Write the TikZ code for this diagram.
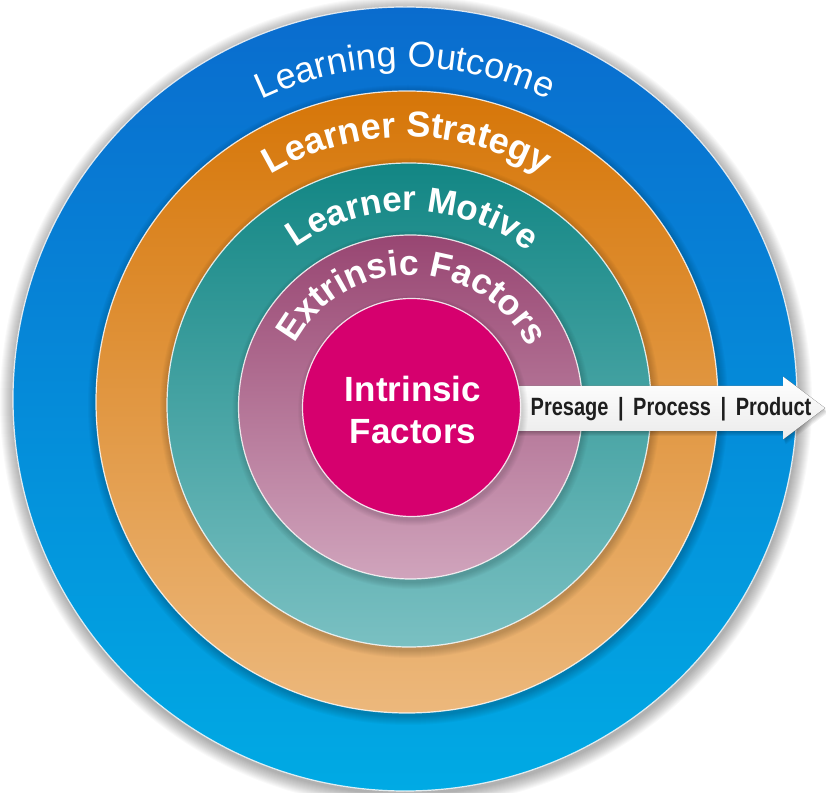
\documentclass[tikz,border=0pt]{standalone}
\usepackage{fontspec}
\setmainfont{Liberation Sans}
\newfontfamily\condfont[FakeStretch=0.8]{Liberation Sans}
\usetikzlibrary{decorations.text,calc}
\definecolor{blueT}{RGB}{10,108,206}
\definecolor{blueB}{RGB}{0,170,228}
\definecolor{orT}{RGB}{214,118,8}
\definecolor{orB}{RGB}{236,184,124}
\definecolor{teT}{RGB}{18,134,132}
\definecolor{teB}{RGB}{122,192,194}
\definecolor{maT}{RGB}{152,70,114}
\definecolor{maB}{RGB}{208,164,188}
\definecolor{mag}{RGB}{214,0,110}
\definecolor{txtdark}{RGB}{30,30,30}
\tikzset{
  ringborder/.style={draw=white, draw opacity=0.85, line width=1.2pt},
  softshadow/.style={fill=black, opacity=0.022},
  arctext/.style={decorate, decoration={text along path, text align=center, text color=white}},
}
\begin{document}
\begin{tikzpicture}[x=1pt,y=1pt]
\useasboundingbox (0,0) rectangle (826,792);
\fill[white] (0,0) rectangle (826,792);
% outer glow shadow
\foreach \i in {1,...,14} \fill[softshadow] (406,390) circle ({392+\i});
% blue ring
\fill[top color=blueT, bottom color=blueB, ringborder] (405,393) circle (392);
\foreach \i in {1,...,9} \fill[softshadow] (408,387) circle ({311+\i});
% orange ring
\fill[top color=orT, bottom color=orB, ringborder] (407,390) circle (311);
\foreach \i in {1,...,8} \fill[softshadow] (410,384) circle ({242+\i});
% teal ring
\fill[top color=teT, bottom color=teB, ringborder] (409,387) circle (242);
\foreach \i in {1,...,7} \fill[softshadow] (411.5,382) circle ({172+\i});
% mauve ring
\fill[top color=maT, bottom color=maB, ringborder] (410.5,385) circle (172);
% arrow shadow
\foreach \i in {1,...,5}
  \fill[black, opacity=0.05, shift={(0.5*\i,-\i)}] (505,406) -- (783,406) -- (783,415.5) -- (825,384) -- (783,352.5) -- (783,361) -- (505,361) -- cycle;
% arrow
\fill[top color=white, bottom color=black!8] (505,406) -- (783,406) -- (783,415.5) -- (825,384) -- (783,352.5) -- (783,361) -- (505,361) -- cycle;
% magenta centre
\foreach \i in {1,...,6} \fill[softshadow] (413,381.5) circle ({109+\i});
\fill[mag, ringborder] (411.5,384.5) circle (109);
% texts on arcs
\path[arctext, decoration={text={|\fontsize{36}{36}\selectfont|Learning Outcome}}]
  (73,393) arc[start angle=180, end angle=0, radius=332];
\path[arctext, decoration={text={|\bfseries\fontsize{36}{36}\selectfont|Learner Strategy}}]
  (142,390) arc[start angle=180, end angle=0, radius=265];
\path[arctext, decoration={text={|\bfseries\fontsize{35}{35}\selectfont|Learner Motive}}]
  ($(409,387)+(179:194)$) arc[start angle=179, end angle=-1, radius=194];
\path[arctext, decoration={text={|\bfseries\fontsize{35.5}{35.5}\selectfont|Extrinsic Factors}}]
  ($(410.5,385)+(179:132)$) arc[start angle=179, end angle=-1, radius=132];
% centre text
\node[font=\bfseries\fontsize{35}{35}\selectfont, text=white, anchor=base, inner sep=0pt] (intr1) at (413,390) {Intrinsic};
\node[font=\bfseries\fontsize{35}{35}\selectfont, text=white, anchor=base, inner sep=0pt] (intr2) at (413,348) {Factors};
% arrow text
\node[font=\condfont\bfseries\fontsize{25}{25}\selectfont, text=txtdark, anchor=base, inner sep=0pt] (ppp) at (671,376)
  {Presage\hspace{4pt} | \hspace{4pt}Process\hspace{4pt} | \hspace{4pt}Product};
\end{tikzpicture}
\end{document}
